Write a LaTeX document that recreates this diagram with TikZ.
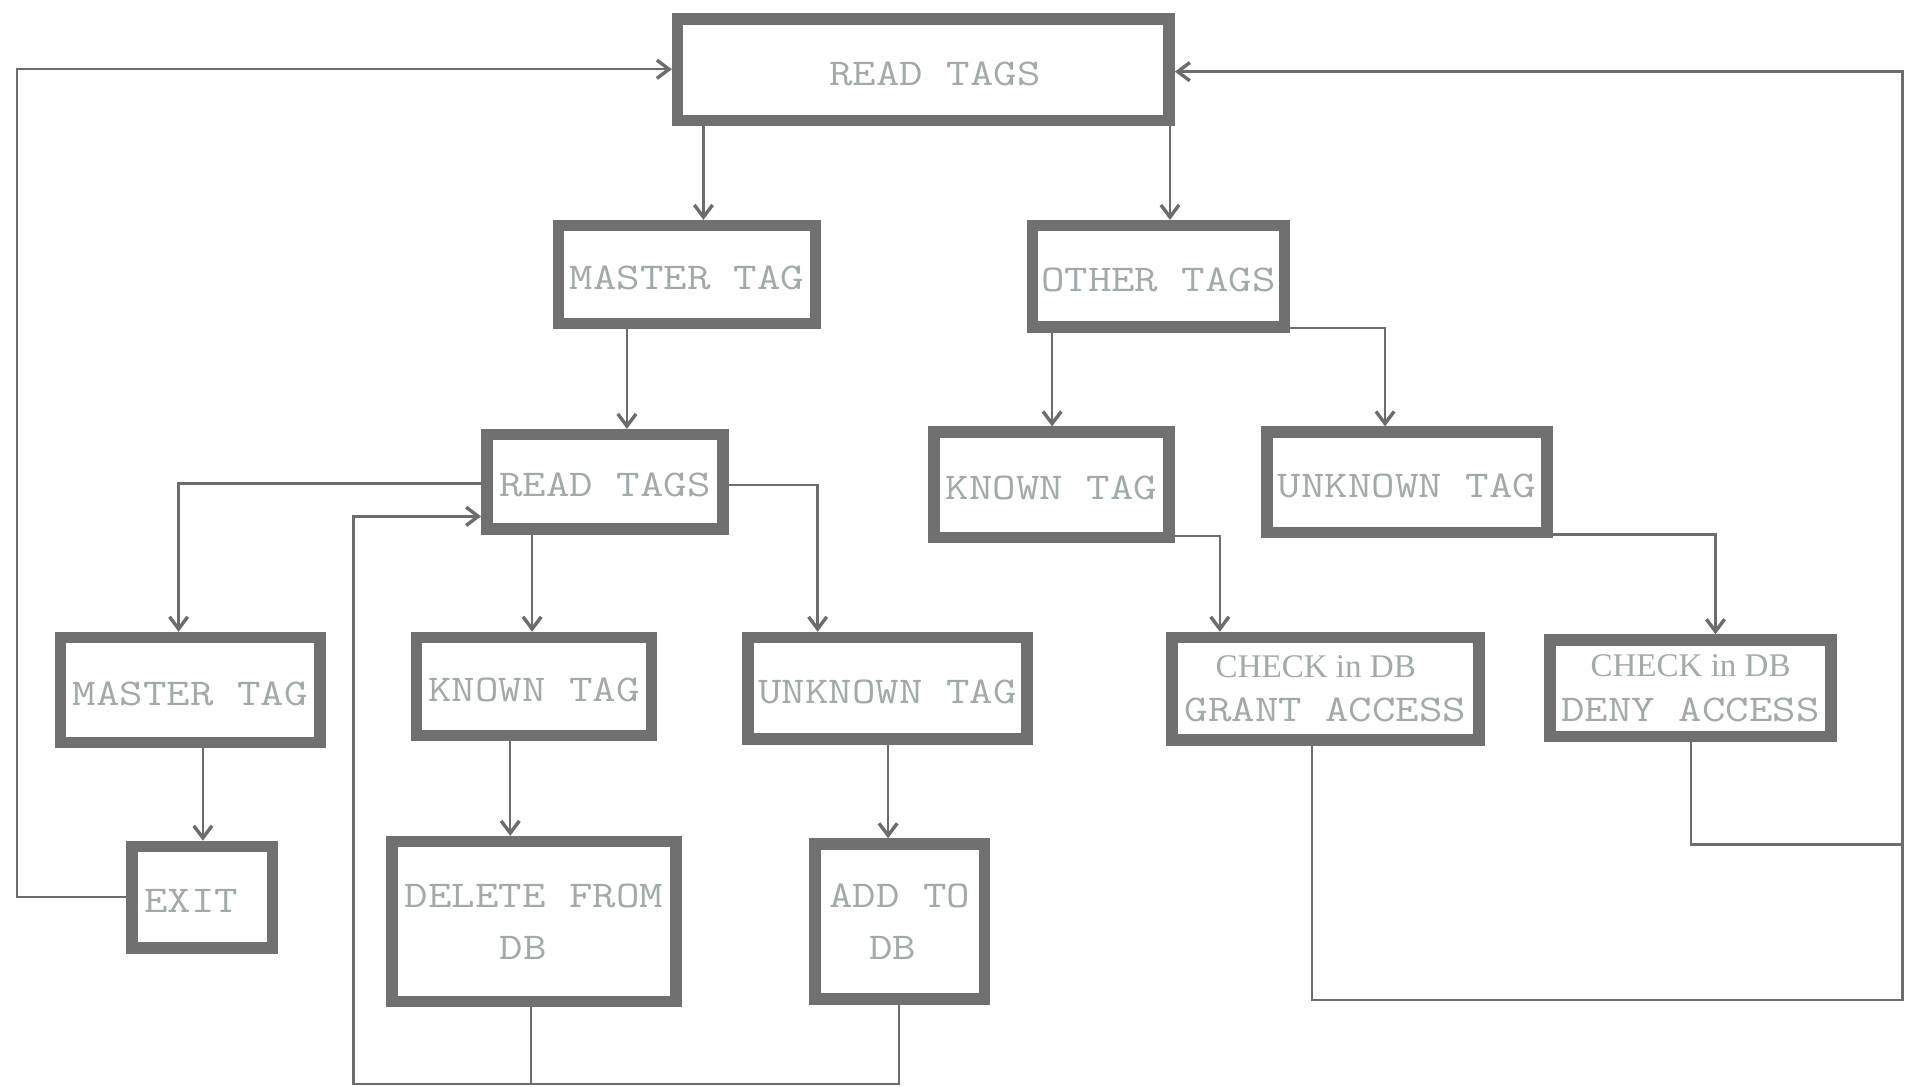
\documentclass[tikz,border=0pt]{standalone}
\usepackage{fontspec}
\usetikzlibrary{arrows.meta}
\newfontfamily\seriffnt{Liberation Serif}
\newcommand\lbl[1]{\scalebox{1}[0.83]{#1}}
\definecolor{boxgray}{RGB}{112,112,112}
\definecolor{linegray}{RGB}{108,108,108}
\definecolor{txtgray}{RGB}{160,170,169}
\tikzset{
  box/.style={draw=boxgray, line width=4.75pt, rectangle, inner sep=0pt, fill=white,
    text=txtgray, font=\ttfamily\fontsize{18.76}{21.5}\selectfont, align=center},
  onel/.style={box, text height=12.5pt, text depth=0pt},
  conn/.style={draw=linegray, line width=1pt},
  arr/.style={conn, -{Straight Barb[length=5pt,width=7.5pt,line width=1.4pt]}},
}
\begin{document}
\begin{tikzpicture}[x=0.5pt,y=-0.5pt]
\useasboundingbox (0,0) rectangle (1568,894);
% boxes
\node[onel, minimum width=202.25pt, minimum height=41.75pt] (top) at (760,57.5) {\hspace*{9.5pt}\lbl{READ TAGS}};
\node[onel, minimum width=105.75pt, minimum height=40.25pt] (mL2) at (565.5,226) {\lbl{MASTER TAG}};
\node[onel, minimum width=103.75pt, minimum height=41.75pt] (oth) at (953.5,227.5) {\lbl{OTHER TAGS}};
\node[onel, minimum width=97.25pt, minimum height=38.75pt] (rL3) at (498,396.5) {\lbl{READ TAGS}};
\node[onel, minimum width=96.75pt, minimum height=43.25pt] (kR) at (865.5,399) {\lbl{KNOWN TAG}};
\node[onel, minimum width=115.25pt, minimum height=41.25pt] (uR) at (1158,397) {\lbl{UNKNOWN TAG}};
\node[onel, minimum width=106.75pt, minimum height=43.25pt] (mL4) at (156.5,568) {\lbl{MASTER TAG}};
\node[onel, minimum width=96.75pt, minimum height=40.25pt] (kL4) at (439.5,565) {\lbl{KNOWN TAG}};
\node[onel, minimum width=114.75pt, minimum height=41.75pt] (uL4) at (730.5,566.5) {\lbl{UNKNOWN TAG}};
\node[box, minimum width=126.25pt, minimum height=42.25pt, font=\ttfamily\fontsize{18.76}{18.25}\selectfont] (grant) at (1091,567)
  {{\seriffnt\fontsize{13.6}{14}\selectfont CHECK in DB}\hspace*{8pt}\\\lbl{GRANT ACCESS}};
\node[box, minimum width=115.75pt, minimum height=39.75pt, font=\ttfamily\fontsize{18.76}{18.25}\selectfont] (deny) at (1391.5,566.5)
  {{\seriffnt\fontsize{13.6}{14}\selectfont CHECK in DB}\\\lbl{DENY ACCESS}};
\node[onel, minimum width=57.75pt, minimum height=41.75pt] (exit) at (166.5,738.5) {\lbl{EXIT}\hspace*{9pt}};
\node[box, minimum width=116.75pt, minimum height=65.75pt] (del) at (439.5,758.5) {\lbl{DELETE FROM}\\\lbl{DB}\hspace*{9pt}};
\node[box, minimum width=69.75pt, minimum height=63.75pt] (add) at (740.5,758.5) {\lbl{ADD TO}\\\lbl{DB}\hspace*{5.5pt}};
% connectors
\draw[arr] (top.south -| 579,0) -- (mL2.north -| 579,0);
\draw[arr] (top.south -| 963,0) -- (oth.north -| 963,0);
\draw[arr] (mL2.south -| 516,0) -- (rL3.north -| 516,0);
\draw[arr] (oth.south -| 866,0) -- (kR.north -| 866,0);
\draw[arr] (oth.east |- 0,270) -| (uR.north -| 1140,0);
\draw[arr] (rL3.west |- 0,398) -| (mL4.north -| 147,0);
\draw[arr] (rL3.south -| 438,0) -- (kL4.north -| 438,0);
\draw[arr] (rL3.east |- 0,399) -| (uL4.north -| 673,0);
\draw[arr] (kR.east |- 0,441) -| (grant.north -| 1004,0);
\draw[arr] (uR.east |- 0,440) -| (deny.north -| 1412,0);
\draw[arr] (mL4.south -| 167,0) -- (exit.north -| 167,0);
\draw[arr] (kL4.south -| 420,0) -- (del.north -| 420,0);
\draw[arr] (uL4.south -| 731,0) -- (add.north -| 731,0);
% return loops
\coordinate (lcorner) at (14,57);
\draw[arr] (exit.west) -| (lcorner) -- (top.west |- lcorner);
\coordinate (rbottom) at (1566,823);
\coordinate (rtop) at (1566,59);
\draw[arr] (grant.south -| 1080,0) |- (rbottom) -- (rtop) -- (top.east |- rtop);
\coordinate (rmid) at (1566,695);
\draw[conn] (deny.south -| 1392,0) |- (rmid);
\coordinate (bleft) at (291,892);
\draw[arr] (del.south -| 437,0) |- (bleft) |- (rL3.west |- 0,425);
\coordinate (bmid) at (437,892);
\draw[conn] (add.south -| 740,0) |- (bmid);
\end{tikzpicture}
\end{document}
